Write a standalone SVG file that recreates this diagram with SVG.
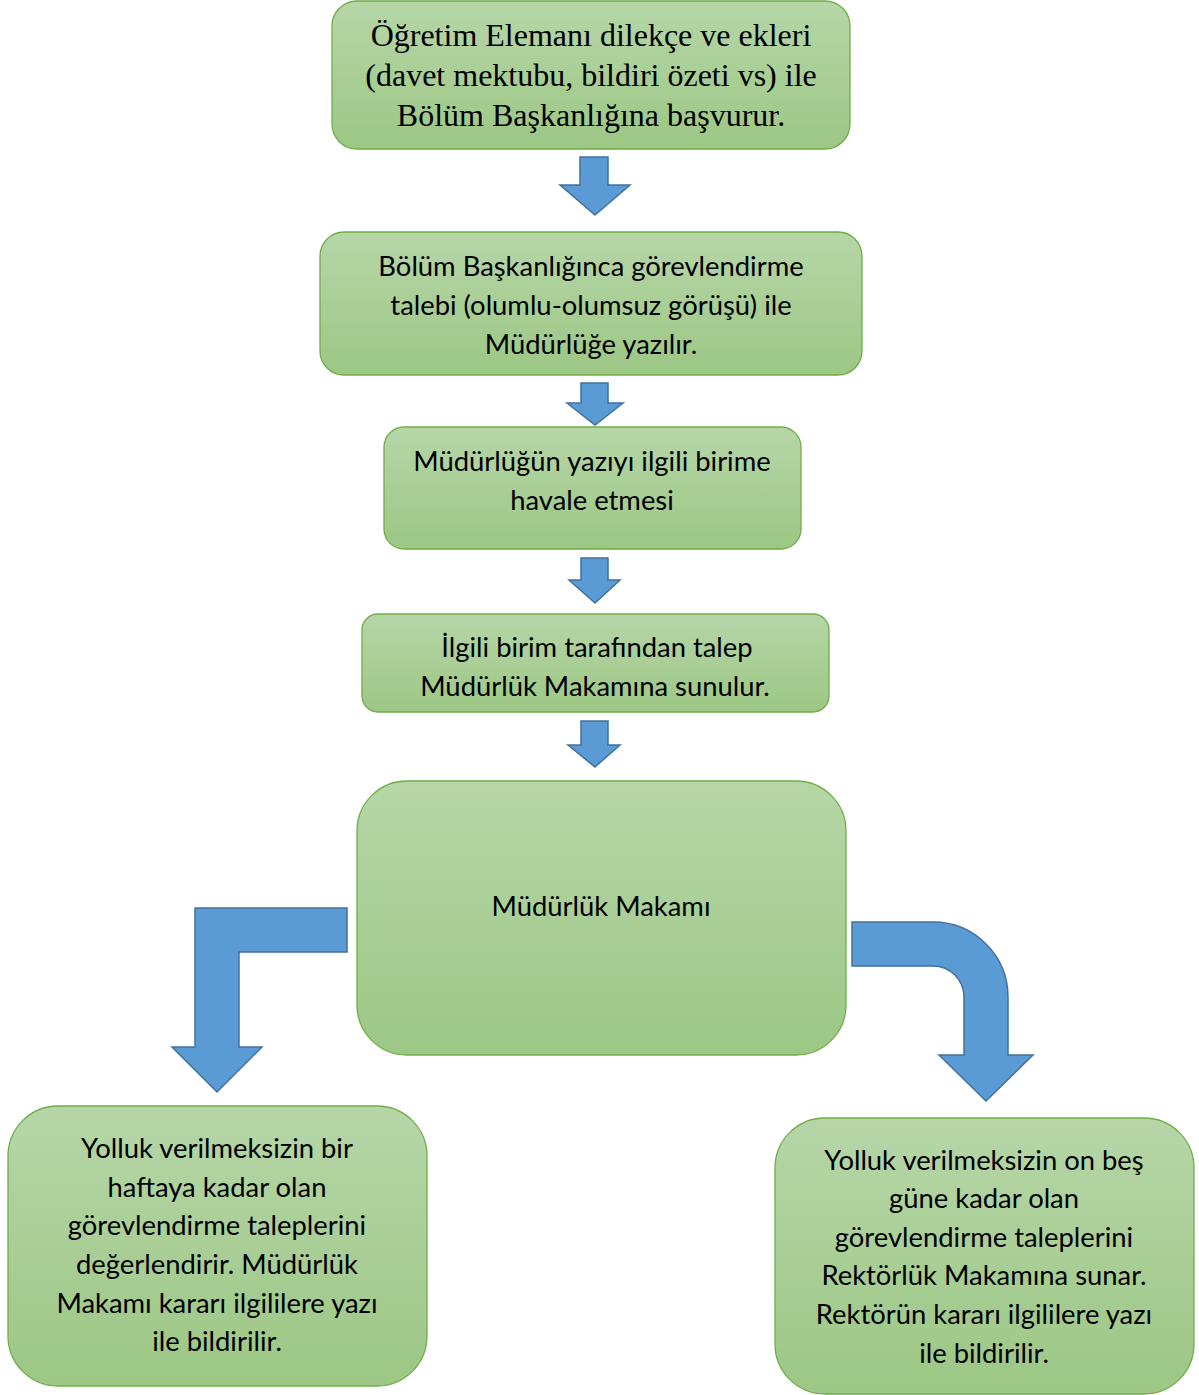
<svg xmlns="http://www.w3.org/2000/svg" width="1199" height="1395" viewBox="0 0 1199 1395">
<defs>
<linearGradient id="g" x1="0" y1="0" x2="0" y2="1">
<stop offset="0" stop-color="#b6d6a8"/>
<stop offset="1" stop-color="#9cc784"/>
</linearGradient>
<style>
.box{fill:url(#g);stroke:#70ad47;stroke-width:1.3}
.arr{fill:#5b9bd5;stroke:#41719c;stroke-width:1.5}
.t{font-family:Lato,"Liberation Sans",sans-serif;font-size:27.4px;fill:#000;text-anchor:middle}
.s{font-family:"Liberation Serif",serif;font-size:32px;fill:#000;text-anchor:middle}
</style>
</defs>
<rect width="1199" height="1395" fill="#fff"/>
<g id="connectors">
<path class="arr" d="M580,157 H608 V185 H630 L595,215 L560,185 H580 Z"/>
<path class="arr" d="M581,383 H608 V403 H623 L595,425 L567,403 H581 Z"/>
<path class="arr" d="M581,558 H608 V580 H620 L595,603 L569,580 H581 Z"/>
<path class="arr" d="M581,721 H608 V745 H620 L595,767 L568,745 H581 Z"/>
<path class="arr" d="M347,908 V952 H239 V1047 H262 L217,1092 L172,1047 H195 V908 Z"/>
<path class="arr" d="M852,922 H933 A75,75 0 0 1 1008,997 V1055 H1033 L986,1101 L939,1055 H964 V997 A31,31 0 0 0 933,966 H852 Z"/>
</g>
<g id="n1">
<rect class="box" x="332" y="1" width="518" height="148" rx="25"/>
<text class="s" x="591" y="46">Öğretim Elemanı dilekçe ve ekleri</text>
<text class="s" x="591" y="86">(davet mektubu, bildiri özeti vs) ile</text>
<text class="s" x="591" y="126">Bölüm Başkanlığına başvurur.</text>
</g>
<g id="n2">
<rect class="box" x="320" y="232" width="542" height="143" rx="24"/>
<text class="t" x="591" y="276">Bölüm Başkanlığınca görevlendirme</text>
<text class="t" x="591" y="315">talebi (olumlu-olumsuz görüşü) ile</text>
<text class="t" x="591" y="354">Müdürlüğe yazılır.</text>
</g>
<g id="n3">
<rect class="box" x="384" y="427" width="417" height="122" rx="20"/>
<text class="t" x="592" y="471">Müdürlüğün yazıyı ilgili birime</text>
<text class="t" x="592" y="510">havale etmesi</text>
</g>
<g id="n4">
<rect class="box" x="362" y="614" width="467" height="98" rx="16"/>
<text class="t" x="597" y="657">İlgili birim tarafından talep</text>
<text class="t" x="595" y="696">Müdürlük Makamına sunulur.</text>
</g>
<g id="n5">
<rect class="box" x="357" y="781" width="489" height="274" rx="50"/>
<text class="t" x="601" y="916">Müdürlük Makamı</text>
</g>
<g id="n6">
<rect class="box" x="8" y="1106" width="419" height="280" rx="50"/>
<text class="t" x="217" y="1158">Yolluk verilmeksizin bir</text>
<text class="t" x="217" y="1197">haftaya kadar olan</text>
<text class="t" x="217" y="1235">görevlendirme taleplerini</text>
<text class="t" x="217" y="1274">değerlendirir. Müdürlük</text>
<text class="t" x="217" y="1313">Makamı kararı ilgililere yazı</text>
<text class="t" x="217" y="1351">ile bildirilir.</text>
</g>
<g id="n7">
<rect class="box" x="775" y="1118" width="419" height="276" rx="50"/>
<text class="t" x="984" y="1170">Yolluk verilmeksizin on beş</text>
<text class="t" x="984" y="1208">güne kadar olan</text>
<text class="t" x="984" y="1247">görevlendirme taleplerini</text>
<text class="t" x="984" y="1285">Rektörlük Makamına sunar.</text>
<text class="t" x="984" y="1324">Rektörün kararı ilgililere yazı</text>
<text class="t" x="984" y="1363">ile bildirilir.</text>
</g>
</svg>
